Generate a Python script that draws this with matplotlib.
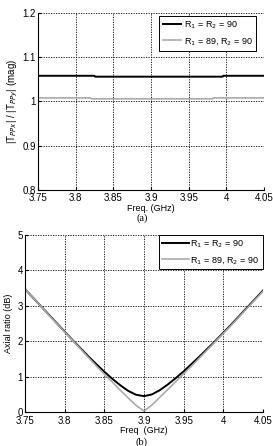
import matplotlib
matplotlib.use("Agg")
import matplotlib.pyplot as plt

plt.rcParams['font.family'] = ['Liberation Sans', 'DejaVu Sans']

# (a) ratio of transmission magnitudes
freq_a = [3.75, 3.825, 3.826, 3.995, 3.996, 4.05]
ratio_ideal = [1.058, 1.058, 1.056, 1.056, 1.058, 1.058]
freq_a2 = [3.75, 3.82, 3.821, 3.982, 3.983, 4.05]
ratio_err = [1.008, 1.008, 1.006, 1.006, 1.008, 1.008]

# (b) axial ratio
freq_b = [3.75, 3.76, 3.77, 3.78, 3.79, 3.80, 3.81, 3.82, 3.83, 3.84, 3.85,
          3.86, 3.87, 3.88, 3.89, 3.90, 3.91, 3.92, 3.93, 3.94, 3.95, 3.96,
          3.97, 3.98, 3.99, 4.00, 4.01, 4.02, 4.03, 4.04, 4.05]
ar_ideal = [3.47, 3.23, 2.99, 2.75, 2.51, 2.27, 2.03, 1.80, 1.57, 1.35, 1.14,
            0.94, 0.76, 0.60, 0.49, 0.45, 0.50, 0.62, 0.78, 0.96, 1.15, 1.36,
            1.57, 1.79, 2.01, 2.24, 2.47, 2.71, 2.95, 3.19, 3.43]
ar_err = [3.47, 3.23, 2.99, 2.74, 2.50, 2.26, 2.02, 1.78, 1.54, 1.30, 1.07,
          0.85, 0.62, 0.40, 0.19, 0.03, 0.20, 0.42, 0.64, 0.86, 1.08, 1.30,
          1.53, 1.76, 1.99, 2.22, 2.45, 2.69, 2.93, 3.17, 3.41]

xticks = [3.75, 3.8, 3.85, 3.9, 3.95, 4.0, 4.05]
xlabels = ["3.75", "3.8", "3.85", "3.9", "3.95", "4", "4.05"]
lab_ideal = r"R$_1$ = R$_2$ = 90"
lab_err = r"R$_1$ = 89, R$_2$ = 90"

fig = plt.figure(figsize=(2.73, 4.46), dpi=100)
ax1 = fig.add_axes([0.139, 0.574, 0.828, 0.397])
ax2 = fig.add_axes([0.092, 0.076, 0.871, 0.397])


def style(ax):
    for s in ["top", "right"]:
        ax.spines[s].set_visible(False)
    for s in ["left", "bottom"]:
        ax.spines[s].set_linewidth(0.8)
    ax.grid(True, linestyle=(0, (1.5, 1.5)), color="black", linewidth=0.6)
    ax.set_xlim(3.75, 4.05)
    ax.set_xticks(xticks)
    ax.set_xticklabels(xlabels)
    ax.tick_params(direction="in", length=2.5, labelsize=7, pad=1.5)
    ax.tick_params(axis="x", pad=2.5)


ax1.plot(freq_a, ratio_ideal, color="black", lw=1.4, label=lab_ideal)
ax1.plot(freq_a2, ratio_err, color="#aaaaaa", lw=1.2, label=lab_err)
style(ax1)
ax1.set_ylim(0.8, 1.2)
ax1.set_yticks([0.8, 0.9, 1.0, 1.1, 1.2])
ax1.set_yticklabels(["0.8", "0.9", "1", "1.1", "1.2"])
ax1.set_xlabel("Freq. (GHz)", fontsize=6.5, labelpad=0.5)
ax1.set_ylabel(r"|T$_{PPx}$| / |T$_{PPy}$| (mag)", fontsize=7, labelpad=2)
leg1 = ax1.legend(loc="upper right", bbox_to_anchor=(0.965, 0.985), fontsize=6.5,
                  fancybox=False, edgecolor="black", framealpha=1,
                  borderaxespad=0, handlelength=2.0, handletextpad=0.3,
                  labelspacing=0.6, borderpad=0.4)
leg1.get_frame().set_linewidth(0.7)

ax2.plot(freq_b, ar_ideal, color="black", lw=1.4, label=lab_ideal)
ax2.plot(freq_b, ar_err, color="#aaaaaa", lw=1.2, label=lab_err)
style(ax2)
ax2.set_ylim(0, 5)
ax2.set_yticks([0, 1, 2, 3, 4, 5])
ax2.set_xlabel("Freq  (GHz)", fontsize=6.5, labelpad=0.5)
ax2.set_ylabel("Axial ratio (dB)", fontsize=6.5, labelpad=3)
leg2 = ax2.legend(loc="upper right", bbox_to_anchor=(1.0, 1.0), fontsize=6.5,
                  fancybox=False, edgecolor="black", framealpha=1,
                  borderaxespad=0, handlelength=3.0, handletextpad=0.1,
                  labelspacing=0.5, borderpad=0.4)
leg2.get_frame().set_linewidth(0.7)

fig.text(0.52, 0.511, "(a)", ha="center", va="center", fontsize=7.5,
         family=["Liberation Serif", "DejaVu Serif"])
fig.text(0.52, 0.008, "(b)", ha="center", va="center", fontsize=7.5,
         family=["Liberation Serif", "DejaVu Serif"])

fig.savefig("out.png", dpi=100)
